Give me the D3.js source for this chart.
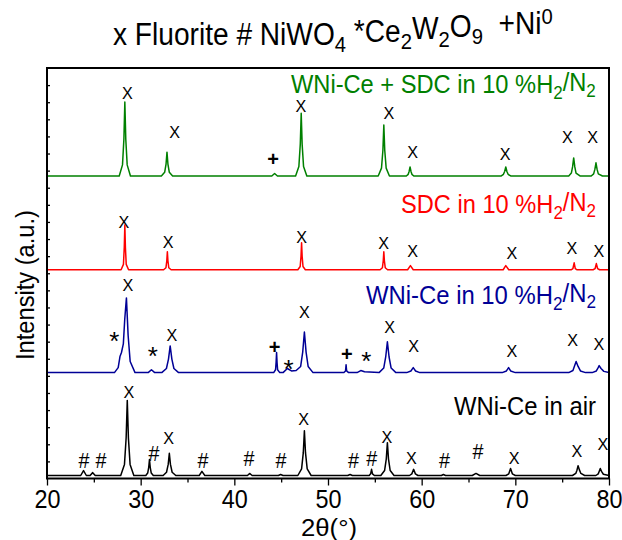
<!DOCTYPE html>
<html>
<head>
<meta charset="UTF-8">
<title>XRD patterns</title>
<style>
  body { margin: 0; background: #fff; }
  svg { display: block; font-family: "Liberation Sans Narrow", "Liberation Sans", Arial, sans-serif; }
  text { white-space: pre; }
</style>
</head>
<body>
<svg></svg>
<script src="https://d3js.org/d3.v7.min.js"></script>
<script>

let width = 622, height = 540;
let margin = {top: 68, right: 13, bottom: 61.5, left: 47};

// patterns: [2theta, intensity above own baseline]
let greenPts = [[20,0],
  [27.71,0],[28.06,2.7],[28.21,9],[28.31,18],[28.41,9],[28.56,2.7],[28.91,0],
  [32.21,0],[32.56,0.9],[32.71,2.9],[32.81,5.8],[32.91,2.9],[33.06,0.9],[33.41,0],
  [44.0,0],[44.3,0.6],[44.6,0],
  [46.54,0],[46.89,2.3],[47.04,7.7],[47.14,15.3],[47.24,7.7],[47.39,2.3],[47.74,0],
  [55.36,0],[55.71,1.9],[55.86,6.2],[55.96,12.4],[56.06,6.2],[56.21,1.9],[56.56,0],
  [58.36,0],[58.56,0.4],[58.66,1.1],[58.76,2.2],[58.86,1.1],[58.96,0.4],[59.16,0],
  [68.5,0],[68.73,0.4],[68.86,1.1],[68.98,2.2],[69.1,1.1],[69.23,0.4],[69.5,0],
  [75.7,0],[75.98,0.7],[76.11,2.2],[76.23,4.4],[76.35,2.2],[76.48,0.7],[76.9,0],
  [78.1,0],[78.36,0.5],[78.49,1.6],[78.61,3.2],[78.73,1.6],[78.86,0.5],[79.3,0],[80,0]];

let redPts = [[20,0],
  [27.91,0],[28.16,1.3],[28.25,5.5],[28.31,10.9],[28.37,5.5],[28.46,1.3],[28.71,0],
  [32.45,0],[32.7,0.5],[32.79,2.2],[32.85,4.4],[32.91,2.2],[33.0,0.5],[33.25,0],
  [46.78,0],[47.03,0.8],[47.12,3.3],[47.18,6.6],[47.24,3.3],[47.33,0.8],[47.58,0],
  [55.56,0],[55.81,0.5],[55.9,2.2],[55.96,4.4],[56.02,2.2],[56.11,0.5],[56.36,0],
  [58.5,0],[58.8,1.0],[59.1,0],
  [68.7,0],[68.98,1.0],[69.3,0],
  [75.95,0],[76.15,0.3],[76.28,1.7],[76.4,0.3],[76.6,0],
  [78.3,0],[78.52,0.3],[78.65,1.5],[78.78,0.3],[79.0,0],[80,0]];

let bluePts = [[20,0],
  [27.2,0],[27.6,1.2],[27.8,4.0],[27.95,4.9],[28.15,7],[28.3,13],[28.48,18.2],[28.66,9.1],[28.88,2.7],[29.4,0],
  [30.8,0],[31.15,0.7],[31.5,0],
  [32.25,0],[32.75,1.0],[32.97,3.3],[33.15,6.5],[33.33,3.3],[33.55,1.0],[34.05,0],
  [44.2,0],[44.4,0.7],[44.46,2.5],[44.51,4.9],[44.56,2.5],[44.62,0.7],[44.85,0],
  [45.2,0],[45.66,1.0],[46.1,0.4],
  [46.6,0.5],[47.08,1.5],[47.3,5],[47.48,9.9],[47.66,5],[47.88,1.5],[48.4,0],
  [51.7,0],[51.87,0.4],[51.93,1.9],[51.99,0.4],[52.2,0],
  [53.1,0],[53.5,0.5],[53.9,0.2],
  [55.45,0],[55.95,1.1],[56.16,3.8],[56.34,7.5],[56.52,3.8],[56.74,1.1],[57.25,0],
  [58.4,0],[58.85,0.4],[59.1,1.2],[59.35,0.4],[59.8,0],
  [68.6,0],[69.05,0.4],[69.28,1.2],[69.5,0.4],[70.0,0],
  [75.7,0],[76.15,0.5],[76.3,1.5],[76.49,2.7],[76.7,1.5],[76.95,0.4],[77.5,0],
  [78.2,0],[78.65,0.4],[78.8,1.0],[78.95,1.7],[79.15,1.0],[79.45,0.3],[80,0]];

let blackPts = [[20,0],
  [23.6,0],[23.9,1.2],[24.2,0],
  [24.6,0],[24.88,0.7],[25.15,0],
  [27.87,0],[28.27,2.7],[28.45,9.2],[28.57,18.3],[28.69,9.2],[28.87,2.7],[29.27,0],
  [30.55,0],[30.75,0.6],[30.86,2.0],[30.94,3.9],[31.02,2.0],[31.13,0.6],[31.35,0],
  [32.4,0],[32.76,0.8],[32.94,2.7],[33.06,5.4],[33.18,2.7],[33.36,0.8],[33.75,0],
  [36.25,0],[36.54,1.0],[36.85,0],
  [41.4,0],[41.63,0.5],[41.9,0],
  [44.7,0],[44.94,0.25],[45.2,0],
  [46.78,0],[47.18,1.6],[47.36,5.5],[47.48,10.9],[47.6,5.5],[47.78,1.6],[48.2,0],
  [52.1,0],[52.36,0.25],[52.6,0],
  [54.4,0],[54.55,0.4],[54.65,1.5],[54.75,0.4],[54.95,0],
  [55.64,0],[56.04,1.2],[56.22,4.0],[56.34,8.0],[56.46,4.0],[56.64,1.2],[57.05,0],
  [58.7,0],[58.95,0.4],[59.14,1.5],[59.33,0.4],[59.6,0],
  [62.1,0],[62.32,0.25],[62.55,0],
  [65.4,0],[65.8,0.5],[66.2,0],
  [69.0,0],[69.3,0.4],[69.49,1.7],[69.68,0.4],[70.0,0],
  [76.1,0],[76.45,0.5],[76.58,1.3],[76.7,2.4],[76.85,1.3],[77.0,0.5],[77.4,0],
  [78.6,0],[78.85,0.4],[78.95,1.0],[79.07,1.7],[79.2,1.0],[79.4,0.3],[80,0]];

let offsets = [73.7, 50.85, 25.8, 0.73];
let colors = ["#008000", "#ff0000", "#000096", "#000000"];

// phase markers: [2theta, intensity, symbol]
let greenMarks = [[28.58,93.9,"X"],[33.62,84.4,"X"],[44.13,77.9,"+"],[47.1,90.8,"X"],[56.51,89.1,"X"],
  [59.04,79.6,"X"],[68.9,79.1,"X"],[75.57,83.2,"X"],[78.24,83.2,"X"]];
let redMarks = [[28.22,62.5,"X"],[32.92,57.7,"X"],[47.18,58.9,"X"],[55.95,57.4,"X"],[59.04,55.5,"X"],
  [69.64,55.0,"X"],[76.05,56.2,"X"],[78.93,55.5,"X"]];
let blueMarks = [[27.18,35.3,"*"],[28.63,47.2,"X"],[31.3,31.6,"*"],[33.32,35.0,"X"],[44.3,32.1,"+"],
  [45.78,28.5,"*"],[47.48,40.6,"X"],[52.0,30.4,"+"],[54.09,30.4,"*"],[56.59,37.0,"X"],[59.13,32.4,"X"],
  [69.64,31.1,"X"],[76.11,33.8,"X"],[78.93,32.8,"X"]];
let blackMarks = [[23.95,4.6,"#"],[25.77,4.6,"#"],[28.75,21.2,"X"],[31.42,6.3,"#"],[32.99,10.0,"X"],
  [36.65,4.6,"#"],[41.56,4.9,"#"],[44.98,4.4,"#"],[47.39,14.6,"X"],[52.73,4.4,"#"],[54.67,4.9,"#"],
  [56.3,10.2,"X"],[58.91,5.1,"X"],[62.43,4.4,"#"],[66.01,6.8,"#"],[69.86,5.1,"X"],[76.58,6.8,"X"],[79.36,8.5,"X"]];

let xTicks = [20, 30, 40, 50, 60, 70, 80];
let xMinor = [25, 35, 45, 55, 65, 75];

let svg = d3.select("svg").attr("width", width).attr("height", height);

let x = d3.scaleLinear().domain([20, 80]).range([margin.left, width - margin.right]);
let y = d3.scaleLinear().domain([0, 100]).range([height - margin.bottom, margin.top]);

// curves
let series = [greenPts, redPts, bluePts, blackPts];
series.forEach((pts, i) => {
  let line = d3.line()
    .x(d => x(d[0]))
    .y(d => y(d[1] + offsets[i]));
  svg.append("path")
    .datum(pts)
    .attr("fill", "none")
    .attr("stroke", colors[i])
    .attr("stroke-width", 1.5)
    .attr("stroke-linejoin", "round")
    .attr("d", line);
});

// markers
let symStyle = {"X": {size: 17, dy: "0.36em", sx: 0.95}, "+": {size: 20, dy: "0.36em", sx: 1},
                "*": {size: 26, dy: "0.62em", sx: 1}, "#": {size: 22, dy: "0.36em", sx: 0.9}};
[greenMarks, redMarks, blueMarks, blackMarks].forEach(marks => {
  svg.append("g").selectAll("text")
    .data(marks)
    .enter()
    .append("text")
      .attr("transform", d => "translate(" + x(d[0]) + "," + y(d[1]) + ") scale(" + symStyle[d[2]].sx + ",1)")
      .attr("dy", d => symStyle[d[2]].dy)
      .attr("text-anchor", "middle")
      .style("font-family", "'Liberation Sans', Arial, sans-serif")
      .style("font-size", d => symStyle[d[2]].size + "px")
      .style("font-weight", d => d[2] == "+" ? "bold" : "normal")
      .text(d => d[2]);
});

// axes
let xAxis = svg.append("g")
  .attr("transform", "translate(0," + y(0) + ")")
  .call(d3.axisBottom(x).tickValues(xTicks).tickSize(7).tickPadding(4).tickFormat(d3.format("d")));
xAxis.selectAll("text")
  .style("font-size", "26px")
  .style("font-family", "'Liberation Sans', Arial, sans-serif")
  .attr("transform", "scale(0.9,1)")
  .attr("fill", "#000");
svg.append("g")
  .attr("transform", "translate(0," + y(0) + ")")
  .call(d3.axisBottom(x).tickValues(xMinor).tickSize(4).tickFormat(""));

let yTicks = d3.range(1, 24).map(i => i * 100 / 24);
svg.append("g")
  .attr("transform", "translate(" + x(20) + ",0)")
  .call(d3.axisLeft(y).tickValues(yTicks).tickSize(-3).tickFormat(""));

svg.selectAll(".domain").remove();
svg.selectAll(".tick line").attr("stroke", "#000").attr("stroke-width", 1.3);

// frame
svg.append("rect")
  .attr("x", x(20)).attr("y", y(100))
  .attr("width", x(80) - x(20)).attr("height", y(0) - y(100))
  .attr("fill", "none").attr("stroke", "#000").attr("stroke-width", 2);

// text helper: squeeze text to a given width
function fitText(g, left, right, baseline) {
  let w = g.node().getBBox().width;
  let s = (right - left) / w;
  g.attr("transform", "translate(" + left + "," + baseline + ") scale(" + s + ",1)");
}

function addParts(t, parts) {
  parts.forEach(p => {
    let sp = t.append("tspan").text(p[0]);
    if (p[1] == "sub") sp.attr("dy", "0.32em").style("font-size", "0.72em");
    if (p[1] == "sup") sp.attr("dy", "-0.45em").style("font-size", "0.72em");
    if (p[1] == "back") sp.attr("dy", "-0.32em");
  });
}

// title
let tg = svg.append("g");
let tt = tg.append("text").attr("x", 0).attr("y", 0).style("font-size", "31px").attr("fill", "#000");
addParts(tt, [["x Fluorite # NiWO"], ["4","sub"], [" *Ce","back"], ["2","sub"], ["W","back"], ["2","sub"],
  ["O","back"], ["9","sub"], ["  +Ni","back"], ["0","sup"]]);
tt.attr("x", -tt.node().getBBox().x);
fitText(tg, 113, 553, 45);

// series labels
let labels = [
  {parts: [["WNi-Ce + SDC in 10 %H"], ["2","sub"], ["/N","back"], ["2","sub"]], left: 291, right: 596, base: 93},
  {parts: [["SDC in 10 %H"], ["2","sub"], ["/N","back"], ["2","sub"]], left: 401, right: 596, base: 213},
  {parts: [["WNi-Ce in 10 %H"], ["2","sub"], ["/N","back"], ["2","sub"]], left: 366, right: 596, base: 304},
  {parts: [["WNi-Ce in air"]], left: 454, right: 596, base: 415}
];
labels.forEach((l, i) => {
  let g = svg.append("g");
  let t = g.append("text").attr("x", 0).attr("y", 0).style("font-size", "25px").attr("fill", colors[i]);
  addParts(t, l.parts);
  t.attr("x", -t.node().getBBox().x);
  fitText(g, l.left, l.right, l.base);
});

// axis titles
let xt = svg.append("g");
let xtt = xt.append("text").attr("x", 0).attr("y", 0).style("font-size", "24px").attr("fill", "#000").text("2θ(°)");
xtt.attr("x", -xtt.node().getBBox().x);
fitText(xt, 301, 357, 536);

let yl = svg.append("text")
  .attr("transform", "translate(34,285) rotate(-90)")
  .attr("text-anchor", "middle")
  .style("font-size", "25px")
  .attr("textLength", 150)
  .attr("lengthAdjust", "spacingAndGlyphs")
  .attr("fill", "#000")
  .text("Intensity (a.u.)");

</script>
</body>
</html>
